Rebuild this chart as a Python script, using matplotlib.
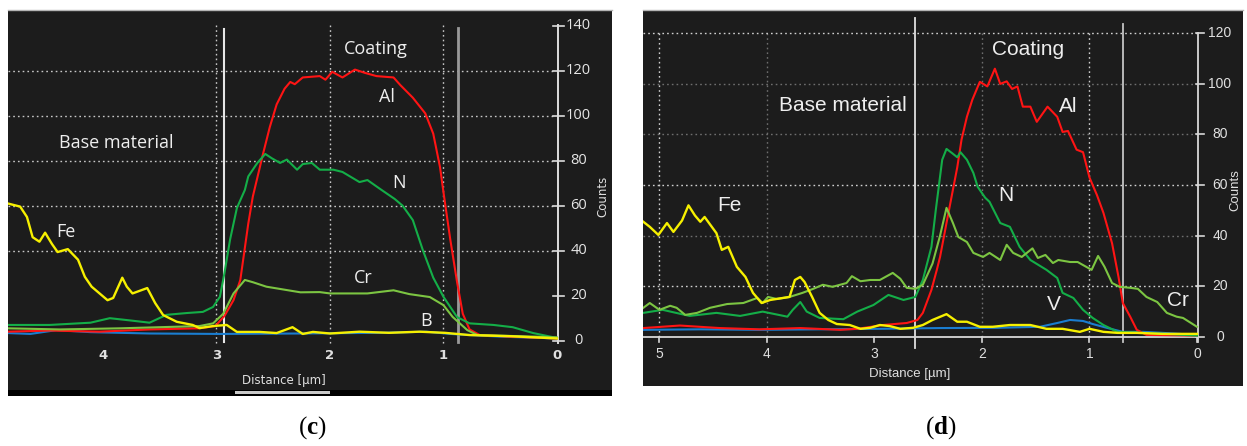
import matplotlib
matplotlib.use('Agg')
import matplotlib.pyplot as plt
from matplotlib.patches import Rectangle

# ---------------------------------------------------------------------
# panel (c) - line scan, distance [um] vs counts
# ---------------------------------------------------------------------
c_al_x = [4.84, 4.47, 4.03, 3.59, 3.15, 3.01, 2.93, 2.85, 2.79, 2.72, 2.68, 2.59, 2.53, 2.47,
          2.40, 2.35, 2.31, 2.24, 2.09, 2.04, 1.98, 1.89, 1.78, 1.69, 1.59, 1.44, 1.38, 1.27,
          1.16, 1.09, 1.03, 1.00, 0.94, 0.88, 0.83, 0.77, 0.68, 0.41, 0.0]
c_al_y = [4, 4.5, 4, 5, 5.5, 6.5, 11, 18, 27, 52, 64, 83, 95, 105,
          112, 115, 114, 117, 117.6, 116, 119.5, 117, 120.5, 119, 117.6, 117, 113.6, 108,
          101, 92, 77, 66, 45, 26, 12, 5, 2.5, 1.8, 1]

c_n_x = [4.84, 4.47, 4.11, 3.94, 3.76, 3.59, 3.44, 3.26, 3.12, 3.03, 2.97, 2.93, 2.88, 2.82,
         2.75, 2.72, 2.64, 2.57, 2.51, 2.44, 2.38, 2.29, 2.24, 2.16, 2.09, 1.97, 1.89, 1.74,
         1.67, 1.56, 1.43, 1.36, 1.27, 1.18, 1.09, 1.00, 0.88, 0.77, 0.56, 0.39, 0.21, 0.0]
c_n_y = [7, 7, 8, 10, 9, 8, 11.5, 12.3, 12.8, 15, 19.5, 30, 45, 59,
         67, 73, 79, 83, 81, 79, 80.5, 76, 78.5, 79, 76, 76, 75, 70.5,
         71.4, 67.5, 63, 60, 53.6, 40, 28, 19.5, 10.5, 7.7, 7, 6, 3.4, 1.2]

c_cr_x = [4.84, 4.38, 3.85, 3.50, 3.15, 3.03, 2.94, 2.85, 2.75, 2.68, 2.56, 2.38, 2.26, 2.09,
          2.00, 1.82, 1.67, 1.44, 1.30, 1.12, 1.00, 0.92, 0.79, 0.70, 0.33, 0.0]
c_cr_y = [5.5, 5, 5.5, 6, 6.5, 7.7, 12, 21, 27, 26, 24, 22.5, 21.5, 21.6,
          21, 21, 21, 22.4, 20.7, 19.4, 15.8, 10.6, 4.7, 2.5, 2, 1.5]

c_fe_x = [4.84, 4.73, 4.67, 4.62, 4.56, 4.51, 4.45, 4.40, 4.31, 4.22, 4.16, 4.10, 4.03, 3.96,
          3.91, 3.83, 3.79, 3.74, 3.61, 3.54, 3.47, 3.35, 3.21, 3.15, 3.03, 2.91, 2.82, 2.62,
          2.47, 2.33, 2.24, 2.15, 2.00, 1.74, 1.48, 1.21, 0.99, 0.77, 0.41, 0.0]
c_fe_y = [61, 59.6, 55, 46, 44, 48, 43, 39.4, 40.7, 36, 28.4, 24, 21, 18,
          19, 28, 24, 21, 23.4, 16.7, 11.4, 8.4, 7, 5.6, 6.5, 7, 3.9, 3.9,
          3.4, 6, 3, 3.9, 3.2, 4, 3.5, 4, 3.5, 2.5, 2, 1]

c_b_x = [4.84, 4.64, 4.41, 4.11, 3.59, 2.97, 2.26, 1.56, 1.15, 0.94, 0.50, 0.0]
c_b_y = [3.4, 3, 4.7, 3.8, 3.2, 3, 3.2, 3.5, 4, 3, 1.8, 1]

c_yticks = [0, 20, 40, 60, 80, 100, 120, 140]
c_ygrid = [40, 60, 80, 100, 120]
c_xticks = [4, 3, 2, 1, 0]
c_xgrid = [3, 2, 1]

# ---------------------------------------------------------------------
# panel (d)
# ---------------------------------------------------------------------
d_al_x = [5.15, 4.81, 4.44, 4.07, 3.69, 3.32, 3.16, 2.92, 2.70, 2.60, 2.55, 2.47, 2.42, 2.39,
          2.33, 2.28, 2.23, 2.19, 2.14, 2.09, 2.02, 1.95, 1.88, 1.83, 1.77, 1.72, 1.67, 1.62,
          1.55, 1.49, 1.39, 1.30, 1.25, 1.20, 1.12, 1.06, 1.00, 0.93, 0.87, 0.79, 0.73, 0.69,
          0.62, 0.56, 0.47, 0.0]
d_al_y = [3.5, 4.5, 3.5, 3, 3.5, 2.8, 3.2, 4.7, 5.5, 6.7, 9.5, 18.6, 26.5, 31.6,
          45, 56, 67, 78, 87, 93.7, 100.8, 99, 106, 100, 101, 98, 99, 91,
          91, 85, 91, 87, 81, 81.4, 74, 73, 63, 56, 49, 37, 23.7, 13.4,
          7.9, 2.8, 0.8, 0.5]

d_n_x = [5.15, 4.97, 4.72, 4.47, 4.25, 4.04, 3.81, 3.76, 3.69, 3.63, 3.51, 3.29, 3.16, 3.01,
         2.87, 2.73, 2.62, 2.55, 2.47, 2.43, 2.40, 2.37, 2.33, 2.28, 2.23, 2.20, 2.14, 2.08,
         2.04, 1.97, 1.93, 1.83, 1.74, 1.65, 1.55, 1.40, 1.30, 1.25, 1.15, 1.06, 0.97, 0.87,
         0.74, 0.44, 0.0]
d_n_y = [9.5, 10.7, 8.3, 9.5, 8.3, 10, 8, 10.7, 13.8, 10, 7.5, 7, 10, 12.6,
         16.6, 14.6, 15.8, 22.5, 35.6, 50, 60, 70, 74.3, 72.7, 71, 73, 70, 64.8,
         59.3, 55, 53.4, 45, 43.5, 35.6, 30.4, 26.5, 23.3, 17.4, 15.4, 10.7, 7.5, 4.7,
         2, 1.5, 0.5]

d_cr_x = [5.15, 5.09, 5.00, 4.90, 4.84, 4.76, 4.65, 4.53, 4.37, 4.22, 4.09, 4.04, 3.99, 3.91,
          3.79, 3.67, 3.57, 3.48, 3.39, 3.26, 3.21, 3.13, 3.04, 2.95, 2.83, 2.76, 2.70, 2.62,
          2.55, 2.46, 2.39, 2.33, 2.27, 2.22, 2.14, 2.08, 1.99, 1.93, 1.83, 1.77, 1.71, 1.63,
          1.53, 1.48, 1.41, 1.34, 1.29, 1.18, 1.11, 0.98, 0.92, 0.86, 0.79, 0.72, 0.62, 0.55,
          0.47, 0.37, 0.28, 0.19, 0.13, 0.0]
d_cr_y = [11.5, 13.4, 10.7, 12.3, 11.5, 8.7, 9.5, 11.5, 13, 13.4, 15.4, 13.4, 15.8, 15,
          15.8, 17.4, 19, 20.6, 19.8, 21.3, 24, 22, 22.5, 22.5, 25.3, 23, 19.4, 19,
          20.6, 29, 40, 51, 45, 39.5, 37.5, 33.2, 31.6, 33.2, 30.4, 36.4, 33.2, 31.6,
          35, 31.2, 32.4, 29.2, 30.4, 29.6, 29.6, 26.5, 32, 27.7, 21.3, 19.8, 19.4, 19,
          15.8, 13.8, 9.5, 8, 7.5, 4]

d_fe_x = [5.15, 5.09, 5.01, 4.93, 4.87, 4.79, 4.73, 4.67, 4.62, 4.58, 4.47, 4.42, 4.36, 4.28,
          4.20, 4.13, 4.05, 3.97, 3.85, 3.79, 3.74, 3.69, 3.65, 3.58, 3.51, 3.43, 3.35, 3.23,
          3.13, 3.04, 2.95, 2.86, 2.76, 2.64, 2.55, 2.46, 2.33, 2.23, 2.14, 2.02, 1.90, 1.74,
          1.55, 1.40, 1.25, 1.09, 1.00, 0.87, 0.74, 0.56, 0.32, 0.0]
d_fe_y = [45.5, 43.5, 40.3, 45, 41.5, 46, 52, 48, 45.5, 47.4, 41, 34.4, 35.6, 27.7,
          23.7, 17.4, 13.4, 14.6, 15.4, 15.8, 22.5, 23.7, 21.7, 15.8, 9.5, 6.7, 5.1, 4.7,
          3.2, 3.6, 4.7, 4.3, 3.2, 3.6, 4.7, 6.7, 9, 6, 6, 4, 4, 4.7,
          4.7, 3.2, 3.2, 2, 3.2, 2, 1.6, 1.6, 1.2, 1.2]

d_v_x = [5.15, 4.62, 4.07, 3.51, 2.95, 2.39, 1.86, 1.46, 1.30, 1.18, 1.06, 0.97, 0.84, 0.69,
         0.50, 0.32, 0.0]
d_v_y = [2.8, 3, 2.8, 3, 3.2, 3.5, 3.6, 4, 5.5, 6.7, 6.3, 5.1, 3.6, 2, 2, 1.6, 0.8]

d_yticks = [0, 20, 40, 60, 80, 100, 120]
d_ygrid_bright = [20, 60, 120]
d_ygrid_dim = [40, 80, 100]
d_xticks = [5, 4, 3, 2, 1, 0]
d_xgrid_bright = [5, 1]
d_xgrid_dim = [4, 2]

# colours
BG = '#1c1c1c'
RED = '#ff1414'
N_GREEN = '#14ae48'
CR_GREEN = '#7cc542'
YELLOW = '#f6f000'
BLUE = '#1a7dd0'
TXT = '#eeeeee'

plt.rcParams['mathtext.fontset'] = 'custom'
plt.rcParams['mathtext.rm'] = 'Liberation Serif'
plt.rcParams['mathtext.bf'] = 'Liberation Serif:bold'

W, H = 1247, 446
fig = plt.figure(figsize=(W / 100, H / 100), dpi=100)
fig.patch.set_facecolor('white')


def px_axes(x0, y0, x1, y1):
    return fig.add_axes([x0 / W, 1 - y1 / H, (x1 - x0) / W, (y1 - y0) / H])


def style_panel(ax):
    ax.set_facecolor(BG)
    ax.set_xticks([])
    ax.set_yticks([])
    for s in ['left', 'right', 'bottom']:
        ax.spines[s].set_visible(False)
    ax.spines['top'].set_color('#b5b5b5')
    ax.spines['top'].set_linewidth(1.0)


# ---------------- panel (c) ----------------
axc = px_axes(8, 10, 612, 391)
style_panel(axc)
axc.set_xlim(4.837, -0.485)
axc.set_ylim(-22.36, 146.98)

dots = (0, (1.2, 2.2))
for y in c_ygrid:
    axc.plot([4.837, 0.035], [y, y], color='#c8c8c8', lw=1.0, ls=dots)
for x in c_xgrid:
    axc.plot([x, x], [140.5, -2], color='#c8c8c8', lw=1.0, ls=dots)

# interface markers
axc.plot([2.93, 2.93], [138.5, -0.5], color='#e6e6e6', lw=1.5)
axc.plot([0.875, 0.875], [139, -0.5], color='#9a9a9a', lw=2.0)

# y axis on the right
axc.plot([-0.009, -0.009], [140.5, -1], color='#dddddd', lw=1.4)
for y in c_yticks:
    axc.plot([0.035, -0.062], [y, y], color='#dddddd', lw=1.2)
    axc.text(-0.19, y, str(y), color='#e6e6e6', fontsize=10.5, ha='center', va='center',
             family='Open Sans')
for x in c_xticks:
    axc.text(x, -6.8, str(x), color='#e0e0e0', fontsize=9.5, ha='center', va='center',
             family='DejaVu Sans', fontweight='bold')
axc.text(-0.405, 64, 'Counts', color='#e0e0e0', fontsize=8.5, rotation=90,
         ha='center', va='center', family='DejaVu Sans')
axc.text(2.41, -17.9, 'Distance [µm]', color='#e0e0e0', fontsize=8.5, ha='center',
         va='center', family='DejaVu Sans')

# curves
axc.plot(c_b_x, c_b_y, color=BLUE, lw=1.5)
axc.plot(c_al_x, c_al_y, color=RED, lw=1.5)
axc.plot(c_n_x, c_n_y, color=N_GREEN, lw=1.5)
axc.plot(c_cr_x, c_cr_y, color=CR_GREEN, lw=1.5)
axc.plot(c_fe_x, c_fe_y, color=YELLOW, lw=1.7)

lab = dict(color=TXT, fontsize=13, ha='center', va='center', family='Open Sans')
axc.text(1.60, 129.6, 'Coating', **lab)
axc.text(3.88, 87.9, 'Base material', **lab)
axc.text(1.50, 108.3, 'Al', **lab)
axc.text(1.39, 70.1, 'N', **lab)
axc.text(1.71, 27.9, 'Cr', **lab)
axc.text(1.15, 8.8, 'B', **lab)
axc.text(4.33, 48.3, 'Fe', **lab)

# bottom strip of the screenshot
fig.patches.append(Rectangle((8 / W, 1 - 396 / H), 604 / W, 6 / H, transform=fig.transFigure,
                             facecolor='black', edgecolor='none'))
fig.patches.append(Rectangle((235 / W, 1 - 394 / H), 95 / W, 3 / H, transform=fig.transFigure,
                             facecolor='#c8c8c8', edgecolor='none'))

# ---------------- panel (d) ----------------
axd = px_axes(643, 10, 1243, 386)
style_panel(axd)
axd.set_xlim(5.153, -0.428)
axd.set_ylim(-19.4, 129.2)

for y in d_ygrid_dim:
    axd.plot([5.153, 0], [y, y], color='#6e6e6e', lw=1.0, ls=dots)
for x in d_xgrid_dim:
    axd.plot([x, x], [120, 0], color='#6e6e6e', lw=1.0, ls=dots)
for y in d_ygrid_bright:
    axd.plot([5.153, 0], [y, y], color='#d0d0d0', lw=1.0, ls=dots)
for x in d_xgrid_bright:
    axd.plot([x, x], [120, 0], color='#d0d0d0', lw=1.0, ls=dots)

axd.plot([2.62, 2.62], [126, -4.3], color='#e0e0e0', lw=1.3)
axd.plot([0.69, 0.69], [123.7, -2], color='#c4c4c4', lw=1.3)

axd.plot([5.153, 0], [0, 0], color='#d8d8d8', lw=1.3)
axd.plot([-0.01, -0.01], [120.2, -2], color='#d8d8d8', lw=1.3)
for y in d_yticks:
    axd.plot([0.01, -0.065], [y, y], color='#d8d8d8', lw=1.2)
    axd.text(-0.214, y, str(y), color='#e0e0e0', fontsize=10, ha='center', va='center',
             family='Liberation Sans')
for x in d_xticks:
    axd.plot([x, x], [0, -2], color='#d8d8d8', lw=1.2)
    axd.text(x, -6.7, str(x), color='#e0e0e0', fontsize=10, ha='center', va='center',
             family='Liberation Sans')
axd.text(-0.353, 58, 'Counts', color='#e0e0e0', fontsize=9.5, rotation=90,
         ha='center', va='center', family='Liberation Sans')
axd.text(2.67, -14.6, 'Distance [µm]', color='#e0e0e0', fontsize=9.5, ha='center',
         va='center', family='Liberation Sans')

axd.plot(d_v_x, d_v_y, color=BLUE, lw=1.5)
axd.plot(d_al_x, d_al_y, color=RED, lw=1.5)
axd.plot(d_n_x, d_n_y, color=N_GREEN, lw=1.5)
axd.plot(d_cr_x, d_cr_y, color=CR_GREEN, lw=1.5)
axd.plot(d_fe_x, d_fe_y, color=YELLOW, lw=1.7)

lab = dict(color=TXT, fontsize=15, ha='center', va='center', family='Liberation Sans')
axd.text(1.57, 113.4, 'Coating', **lab)
axd.text(3.29, 91.3, 'Base material', **lab)
axd.text(1.20, 90.9, 'Al', **lab)
axd.text(1.78, 55.7, 'N', **lab)
axd.text(4.35, 51.8, 'Fe', **lab)
axd.text(1.33, 13.0, 'V', **lab)
axd.text(0.18, 14.2, 'Cr', **lab)

# captions
fig.text(312 / W, 1 - 428 / H, r'($\mathbf{c}$)', family='Liberation Serif', fontsize=18,
         ha='center', va='center')
fig.text(941 / W, 1 - 428 / H, r'($\mathbf{d}$)', family='Liberation Serif', fontsize=18,
         ha='center', va='center')

fig.savefig('out.png', dpi=100)
